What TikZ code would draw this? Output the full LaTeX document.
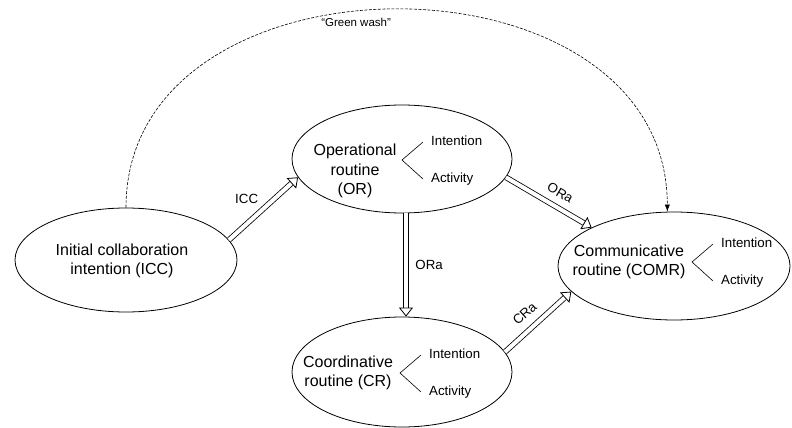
\documentclass[tikz,border=0pt]{standalone}
\usepackage{fontspec}
\setmainfont{Liberation Sans}
\usetikzlibrary{arrows.meta,shapes.geometric,calc}
\definecolor{Ink}{HTML}{000000}
\tikzset{
  routine/.style={draw=Ink, ellipse, line width=0.8pt, inner sep=0pt},
  heading/.style={align=center, font=\fontsize{16}{19.5}\selectfont, inner sep=1pt},
  leaf/.style={anchor=west, font=\fontsize{13.3}{16}\selectfont, inner sep=1pt,
               text height=1.5ex, text depth=.25ex},
  fork/.style={line width=0.6pt, draw=Ink},
  flow/.style={double, double distance=4pt, line width=0.8pt, draw=Ink,
               -{Triangle[open, length=9pt, width=14pt, line width=0.8pt, fill=white]}},
  tag/.style={font=\fontsize{13.3}{16}\selectfont, inner sep=1pt},
  smalltag/.style={font=\fontsize{11.5}{13}\selectfont, inner sep=1pt},
  wash/.style={dash pattern=on 3pt off 1.5pt, line width=0.6pt, draw=Ink,
               -{Latex[length=7pt,width=5pt]}},
}
\newcommand{\aspects}[1]{%
  \node[leaf] (#1-i) at ($(#1)+(28,-18)$) {Intention};
  \node[leaf] (#1-a) at ($(#1)+(28,19)$) {Activity};
  \draw[fork] ([xshift=-7pt]#1-i.west) -- (#1) -- ([xshift=-7pt]#1-a.west);
}

\begin{document}
\begin{tikzpicture}[x=1pt, y=-1pt]
  \useasboundingbox (0,0) rectangle (792,428);
  \node[routine, minimum width=222pt, minimum height=104pt] (icc) at (126,260) {};
  \node[routine, minimum width=220pt, minimum height=108pt] (or) at (402,159) {};
  \node[routine, minimum width=232pt, minimum height=108pt] (comr) at (674,266) {};
  \node[routine, minimum width=220pt, minimum height=110pt] (cr) at (402,372) {};
  \node[heading] (icc-t) at (122,261) {Initial collaboration\\intention (ICC)};
  \node[heading] (or-t) at (355,171) {Operational\\routine\\(OR)};
  \node[heading] (comr-t) at (629,262) {Communicative\\routine (COMR)};
  \node[heading] (cr-t) at (348,373) {Coordinative\\routine (CR)};
  \coordinate (or-v) at (402,160);
  \coordinate (comr-v) at (692,262);
  \coordinate (cr-v) at (400,373);
  \aspects{or-v}
  \aspects{comr-v}
  \aspects{cr-v}
  \draw[flow] (icc.11) -- node[tag, above left=4pt] (icc-l) {ICC} (or.190);
  \draw[flow] (or.350) -- node[tag, pos=0.55, sloped, above=8pt] (or-l1) {ORa} (comr.155);
  \draw[flow] ($(or.south)+(4,0)$) -- node[tag, midway, right=8pt] (or-l2) {ORa} ($(cr.north)+(4,0)$);
  \draw[flow] (cr.11) -- node[tag, pos=0.45, sloped, above=9pt] (cr-l) {CRa} (comr.194);
  \draw[wash] (icc.north) .. controls (126,-57) and (667,-57) .. node[smalltag, pos=0.45, below=5pt] (gw) {``Green wash''} (comr.97);
\end{tikzpicture}
\end{document}
